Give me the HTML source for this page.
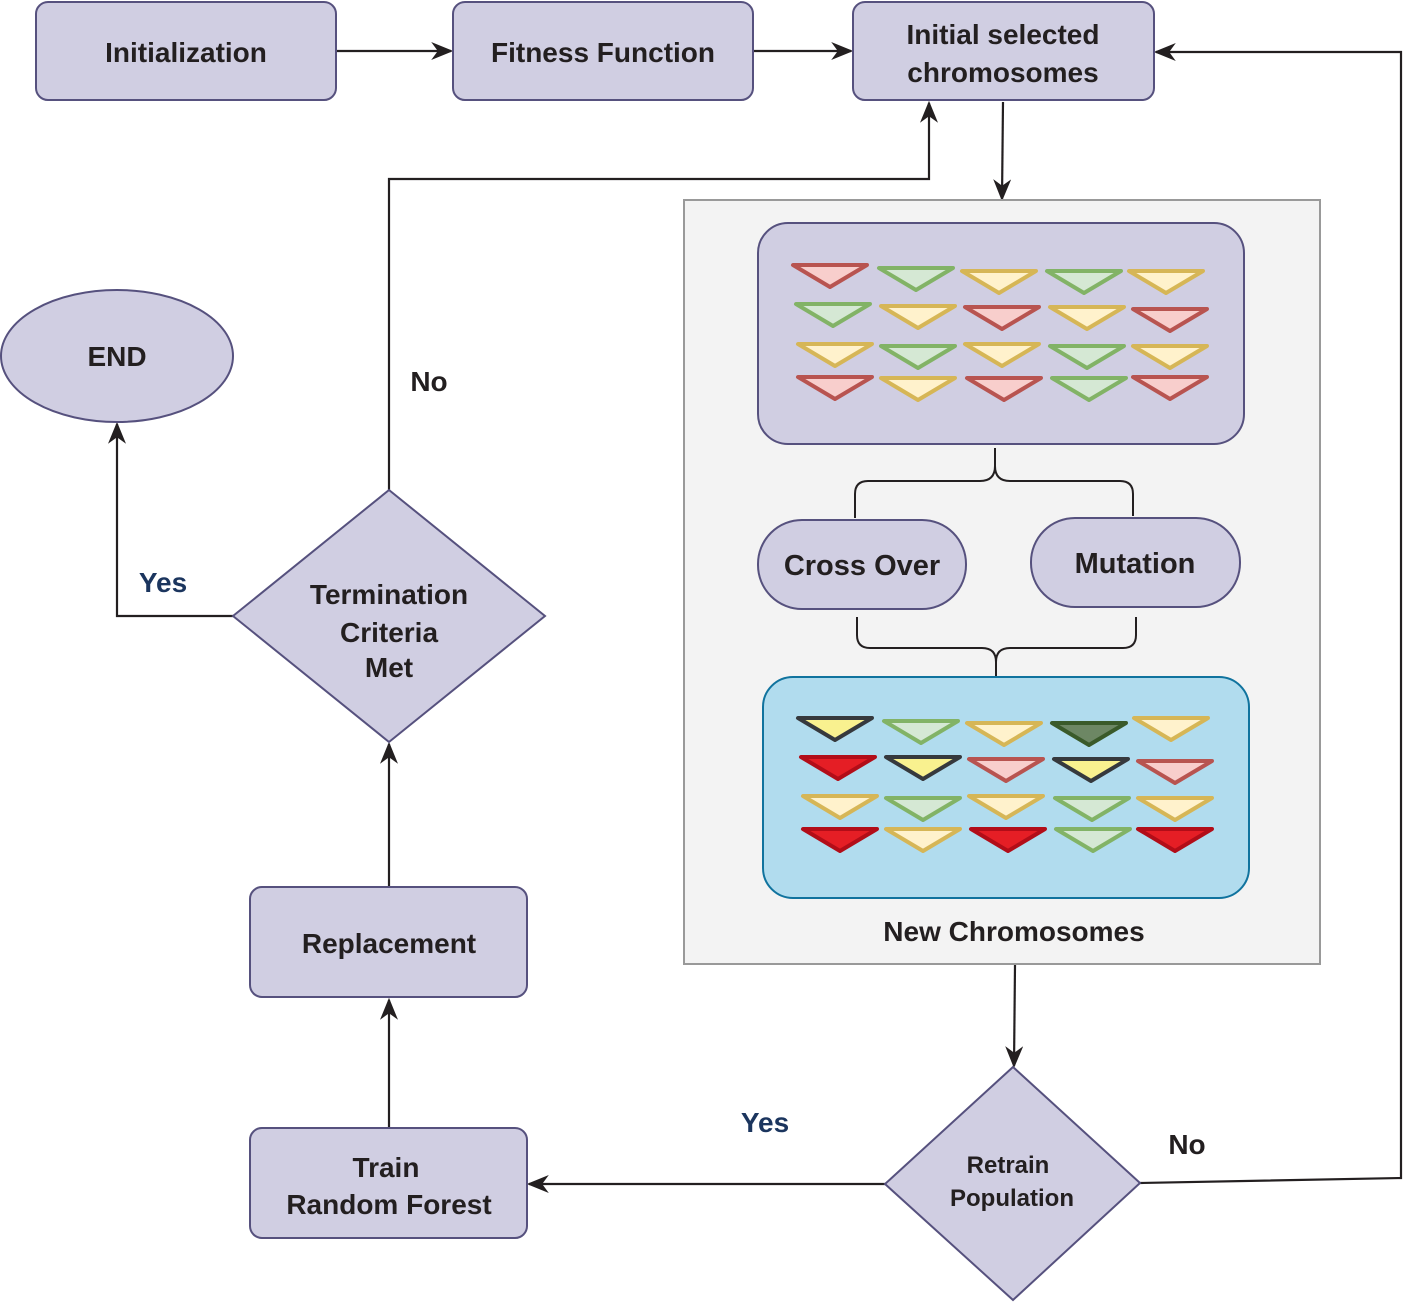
<!DOCTYPE html>
<html><head><meta charset="utf-8"><style>
html,body{margin:0;padding:0;background:#fff}
svg{display:block}
text{font-family:"Liberation Sans",Arial,sans-serif;font-weight:bold;fill:#231f20}
</style></head><body>
<svg id="s" width="1403" height="1302" viewBox="0 0 1403 1302" xmlns="http://www.w3.org/2000/svg">
<defs>
<marker id="a" viewBox="0 0 10 10" refX="9" refY="5" markerWidth="22" markerHeight="18" markerUnits="userSpaceOnUse" orient="auto" preserveAspectRatio="none">
<path d="M0,0 L10,5 L0,10 L3,5 z" fill="#231f20"/>
</marker>
</defs>
<g fill="none" stroke="#231f20" stroke-width="2.2">
<path d="M337,51 L451,51" marker-end="url(#a)"/>
<path d="M753,51 L851,51" marker-end="url(#a)"/>
<path d="M1003,102 L1002,199" marker-end="url(#a)"/>
<path d="M1140,1183 L1401,1178 L1401,52 L1156,52" marker-end="url(#a)"/>
<path d="M1015,965 L1014,1066" marker-end="url(#a)"/>
<path d="M885,1184 L529,1184" marker-end="url(#a)"/>
<path d="M389,1127 L389,1000" marker-end="url(#a)"/>
<path d="M389,886 L389,744" marker-end="url(#a)"/>
<path d="M389,490 L389,179 L929,179 L929,103" marker-end="url(#a)"/>
<path d="M233,616 L117,616 L117,424" marker-end="url(#a)"/>
</g>
<g fill="#d0cee2" stroke="#56517e" stroke-width="2">
<rect x="36" y="2" width="300" height="98" rx="12"/>
<rect x="453" y="2" width="300" height="98" rx="12"/>
<rect x="853" y="2" width="301" height="98" rx="12"/>
<ellipse cx="117" cy="356" rx="116" ry="66"/>
<polygon points="389,490 545,616 389,742 233,616"/>
<rect x="250" y="887" width="277" height="110" rx="12"/>
<rect x="250" y="1128" width="277" height="110" rx="12"/>
<polygon points="1013,1067 1140,1183 1013,1300 885,1184"/>
</g>
<rect x="684" y="200" width="636" height="764" fill="#f3f3f3" stroke="#999" stroke-width="2"/>
<rect x="758" y="223" width="486" height="221" rx="30" fill="#d0cee2" stroke="#56517e" stroke-width="2"/>
<rect x="763" y="677" width="486" height="221" rx="30" fill="#b1dcee" stroke="#10739e" stroke-width="2"/>
<g fill="#d0cee2" stroke="#56517e" stroke-width="2">
<rect x="758" y="520" width="208" height="89" rx="44"/>
<rect x="1031" y="518" width="209" height="89" rx="44"/>
</g>
<g fill="none" stroke="#231f20" stroke-width="2">
<path d="M995,448 L995,466 Q995,481 980,481 L868,481 Q855,481 855,494 L855,518"/>
<path d="M995,466 Q995,481 1010,481 L1120,481 Q1133,481 1133,494 L1133,516"/>
<path d="M857,617 L857,635 Q857,648 870,648 L982,648 Q996,648 996,662 L996,676"/>
<path d="M1136,617 L1136,635 Q1136,648 1123,648 L1010,648 Q996,648 996,662"/>
</g>
<g id="tri" stroke-width="4" stroke-linejoin="round"></g>
<g text-anchor="middle">
<text x="186" y="62" font-size="28">Initialization</text>
<text x="603" y="62" font-size="28">Fitness Function</text>
<text x="1003" y="44" font-size="28">Initial selected</text>
<text x="1003" y="82" font-size="28">chromosomes</text>
<text x="117" y="366" font-size="28">END</text>
<text x="429" y="391" font-size="28">No</text>
<text x="163" y="592" font-size="28" style="fill:#1b355e">Yes</text>
<text x="389" y="604" font-size="28">Termination</text>
<text x="389" y="642" font-size="28">Criteria</text>
<text x="389" y="677" font-size="28">Met</text>
<text x="389" y="953" font-size="28">Replacement</text>
<text x="386" y="1177" font-size="28">Train</text>
<text x="389" y="1214" font-size="28">Random Forest</text>
<text x="862" y="575" font-size="29">Cross Over</text>
<text x="1135" y="573" font-size="29">Mutation</text>
<text x="1014" y="941" font-size="28">New Chromosomes</text>
<text x="765" y="1132" font-size="28" style="fill:#1b355e">Yes</text>
<text x="1187" y="1154" font-size="28">No</text>
<text x="1008" y="1173" font-size="24">Retrain</text>
<text x="1012" y="1206" font-size="24">Population</text>
</g>
</svg>
<script>
var C={r:["#b85450","#f8cecc"],g:["#82b366","#d5e8d4"],y:["#d6b656","#fff2cc"],k:["#36393d","#f9f18f"],d:["#3a5a2a","#6d8764"],R:["#b20d18","#e51e25"]};
var T=[
[[793,265,'r'],[879,268,'g'],[962,271,'y'],[1047,271,'g'],[1129,271,'y']],
[[796,304,'g'],[881,306,'y'],[965,307,'r'],[1050,307,'y'],[1133,309,'r']],
[[798,344,'y'],[881,346,'g'],[965,344,'y'],[1050,346,'g'],[1133,346,'y']],
[[798,377,'r'],[881,378,'y'],[967,378,'r'],[1052,378,'g'],[1133,377,'r']],
[[798,718,'k'],[884,721,'g'],[967,723,'y'],[1052,723,'d'],[1134,718,'y']],
[[801,757,'R'],[886,757,'k'],[969,759,'r'],[1054,759,'k'],[1138,761,'r']],
[[803,796,'y'],[886,798,'g'],[969,796,'y'],[1055,798,'g'],[1138,798,'y']],
[[803,829,'R'],[886,829,'y'],[971,829,'R'],[1056,829,'g'],[1138,829,'R']]];
var g=document.getElementById('tri'),h='';
T.forEach(function(row){row.forEach(function(t){var x=t[0],y=t[1],c=C[t[2]];
h+='<polygon points="'+x+','+y+' '+(x+74)+','+y+' '+(x+37)+','+(y+22)+'" fill="'+c[1]+'" stroke="'+c[0]+'"/>';});});
g.innerHTML=h;
</script>
</body></html>
